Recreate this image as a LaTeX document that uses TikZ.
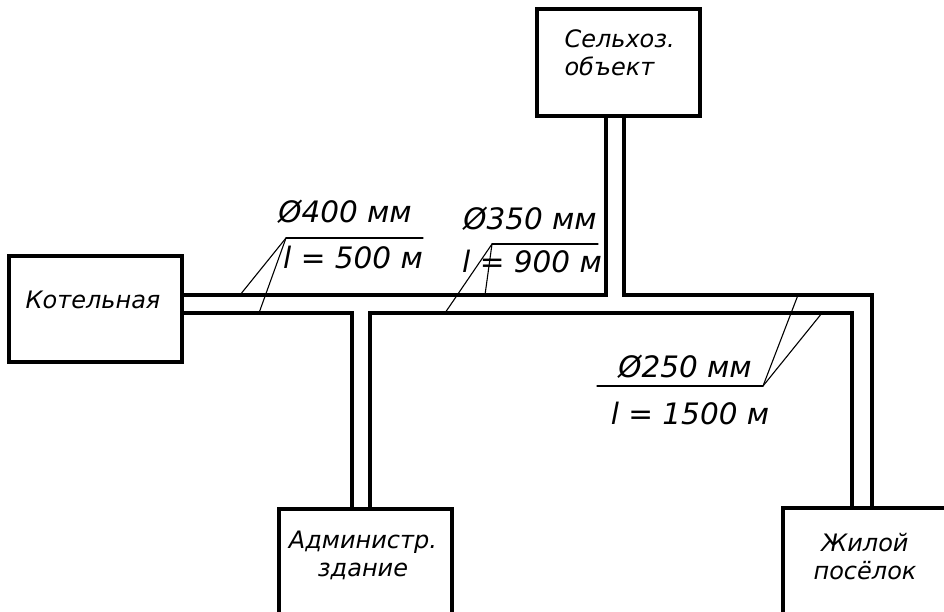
\documentclass[tikz,border=0pt]{standalone}
\usepackage{fontspec}
\setmainfont{DejaVu Sans}
\usepackage{tkz-euclide}

\tikzset{
  box/.style={draw, rectangle, line width=3.2pt, inner sep=0pt},
  boxtext/.style={font=\itshape\fontsize{24}{28}\selectfont, align=center},
  dimtext/.style={font=\itshape\fontsize{29.5}{31}\selectfont},
  pipe/.style={line width=3.3pt, line join=miter},
  lead/.style={line width=1.1pt}
}

\begin{document}
\begin{tikzpicture}[x=1pt, y=-1pt]
    \useasboundingbox (0,0) rectangle (944,612);
    \clip (0,0) rectangle (944,612);
    % buildings
    \node[box, minimum width=173pt, minimum height=106pt] (kot) at (95.5,309) {};
    \node[box, minimum width=163pt, minimum height=107pt] (sel) at (618.5,62.5) {};
    \node[box, minimum width=173pt, minimum height=140pt] (adm) at (365.5,579) {};
    \node[box, minimum width=166pt, minimum height=140pt] (zhil) at (866,578) {};
    \node[boxtext] (kottxt) at (93,300) {Котельная};
    \node[boxtext, align=left, anchor=west] (seltxt) at (561,53) {Сельхоз.\\объект};
    \node[boxtext] (admtxt) at (363,555) {Администр.\\здание};
    \node[boxtext] (zhiltxt) at (865,557) {Жилой\\посёлок};
    % pipe walls
    \tkzDefPoints{182/295/A, 606/295/B, 606/116/C,
                  624/116/D, 624/295/E, 872/295/F, 872/508/G,
                  182/313/H, 352/313/I, 352/509/J,
                  370/509/K, 370/313/L, 852/313/M, 852/508/N}
    \draw[pipe] (A) -- (B) -- (C);
    \draw[pipe] (D) -- (E) -- (F) -- (G);
    \draw[pipe] (H) -- (I) -- (J);
    \draw[pipe] (K) -- (L) -- (M) -- (N);
    % leaders
    \tkzDefPoints{423/238/R1, 286/238/S1, 240/295/P1, 259/313/Q1,
                  598/244/R2, 492/244/S2, 485/295/P2, 445/313/Q2,
                  597/386/R3, 763/386/S3, 798/295/P3, 822/313/Q3}
    \tkzDrawSegments[lead](R1,S1 S1,P1 S1,Q1)
    \tkzDrawSegments[lead](R2,S2 S2,P2 S2,Q2)
    \tkzDrawSegments[lead](R3,S3 S3,P3 S3,Q3)
    \node[dimtext] (d400) at (345,212) {Ø400 мм};
    \node[dimtext] (l500) at (353,258) {l = 500 м};
    \node[dimtext] (d350) at (530,219) {Ø350 мм};
    \node[dimtext] (l900) at (532,262) {l = 900 м};
    \node[dimtext] (d250) at (685,367) {Ø250 мм};
    \node[dimtext] (l1500) at (690,413) {l = 1500 м};
\end{tikzpicture}
\end{document}
